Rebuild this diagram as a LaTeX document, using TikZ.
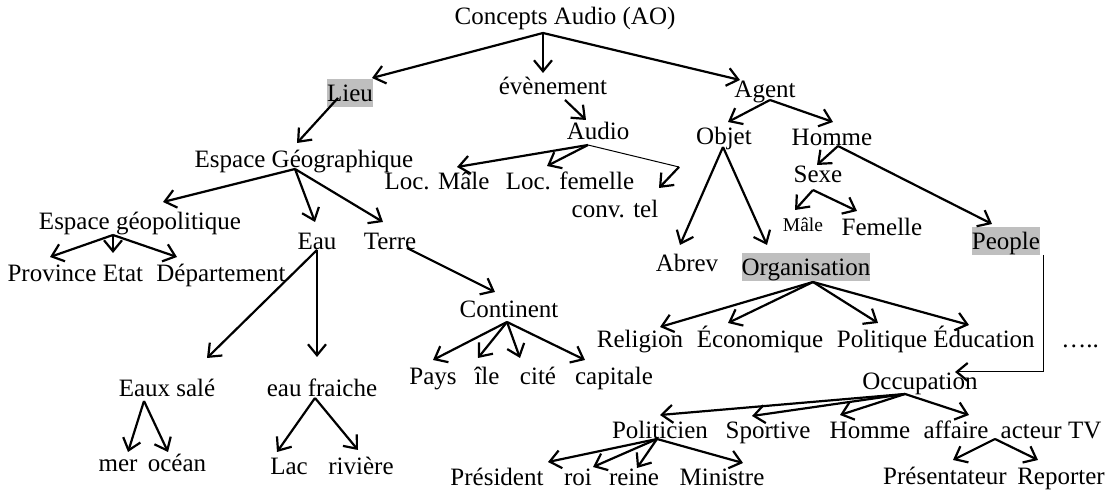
\documentclass[tikz,border=0pt]{standalone}
\usepackage{fontspec}
\setmainfont{Liberation Serif}
\usetikzlibrary{arrows.meta}
\begin{document}
\begin{tikzpicture}[x=0.5pt,y=-0.5pt,
  lbl/.style={anchor=base,inner sep=0pt,font=\fontsize{12.5}{15}\selectfont},
  small/.style={anchor=base,inner sep=0pt,font=\fontsize{9.75}{12}\selectfont},
  hl/.style={lbl,fill=gray!50,text height=11.4pt,text depth=2.7pt},
  arr/.style={-{Straight Barb[length=5.5pt,width=9pt]},line width=1.1pt},
  thinl/.style={line width=0.5pt}]
\useasboundingbox (0,0) rectangle (1110,490);
% ---------- nodes ----------
\node[lbl] (root) at (565,25) {Concepts Audio (AO)};
\node[hl] (lieu) at (350,102) {Lieu};
\node[lbl] (even) at (553,95) {évènement};
\node[lbl] (agent) at (765,98) {Agent};
\node[lbl] (audio) at (598,140) {Audio};
\node[lbl] (locm) at (437,190) {Loc. Mâle};
\node[lbl] (locf) at (570,190) {Loc. femelle};
\node[lbl] (conv) at (615,218) {conv. tel};
\node[lbl] (eg) at (304,168) {Espace Géographique};
\node[lbl] (egp) at (140,230) {Espace géopolitique};
\node[lbl] (prov) at (52,282) {Province};
\node[lbl] (etat) at (123,282) {Etat};
\node[lbl] (dept) at (221,282) {Département};
\node[lbl] (eau) at (317,250) {Eau};
\node[lbl] (terre) at (390,250) {Terre};
\node[lbl] (esal) at (167,397) {Eaux salé};
\node[lbl] (efr) at (322,397) {eau fraiche};
\node[lbl] (mer) at (118,472) {mer};
\node[lbl] (ocean) at (177,472) {océan};
\node[lbl] (lac) at (289,475) {Lac};
\node[lbl] (riv) at (361,475) {rivière};
\node[lbl] (cont) at (509,318) {Continent};
\node[lbl] (pays) at (433,385) {Pays};
\node[lbl] (ile) at (487,385) {île};
\node[lbl] (cite) at (538,385) {cité};
\node[lbl] (capit) at (614,385) {capitale};
\node[lbl] (objet) at (724,145) {Objet};
\node[lbl] (homme) at (832,146) {Homme};
\node[lbl] (sexe) at (818,183) {Sexe};
\node[small] (male) at (803,232) {Mâle};
\node[lbl] (fem) at (882,236) {Femelle};
\node[hl] (people) at (1006,250) {People};
\node[lbl] (abrev) at (687,272) {Abrev};
\node[hl] (orga) at (806,276) {Organisation};
\node[lbl] (relig) at (640,348) {Religion};
\node[lbl] (eco) at (760,348) {Économique};
\node[lbl] (polq) at (882,348) {Politique};
\node[lbl] (educ) at (984,348) {Éducation};
\node[lbl] (dots) at (1080,348) {…..};
\node[lbl] (occ) at (920,390) {Occupation};
\node[lbl] (polit) at (660,439) {Politicien};
\node[lbl] (sport) at (768,439) {Sportive};
\node[lbl] (hom2) at (870,439) {Homme};
\node[lbl] (aff) at (956,439) {affaire};
\node[lbl] (acteur) at (1051,439) {acteur TV};
\node[lbl] (pres) at (497,486) {Président};
\node[lbl] (roi) at (578,486) {roi};
\node[lbl] (reine) at (634,486) {reine};
\node[lbl] (mini) at (722,486) {Ministre};
\node[lbl] (presen) at (945,485) {Présentateur};
\node[lbl] (rep) at (1061,485) {Reporter};
% ---------- connector points ----------
\coordinate (rootS) at (543,33);
\coordinate (lieuT) at (372,78);
\coordinate (evenT) at (543,73);
\coordinate (agentT) at (740,80);
\coordinate (evenS) at (565,100);
\coordinate (audioT) at (586,120);
\coordinate (audioS) at (588,145);
\coordinate (locmT) at (457,167);
\coordinate (locfT) at (547,166);
\coordinate (convK) at (679,167);
\coordinate (convT) at (659,188);
\coordinate (lieuS) at (338,98);
\coordinate (egT) at (297,143);
\coordinate (egS) at (295,169);
\coordinate (egpT) at (163,202);
\coordinate (eauT) at (315,222);
\coordinate (terreT) at (383,222);
\coordinate (egpS) at (113,235);
\coordinate (provT) at (50,257);
\coordinate (etatT) at (113,253);
\coordinate (deptT) at (177,257);
\coordinate (eauS) at (317,250);
\coordinate (esalT) at (207,358);
\coordinate (efrT) at (317,357);
\coordinate (esalS) at (144,401);
\coordinate (merT) at (128,452);
\coordinate (oceanT) at (168,452);
\coordinate (efrS) at (315,398);
\coordinate (lacT) at (277,452);
\coordinate (rivT) at (358,450);
\coordinate (terreS) at (407,248);
\coordinate (contT) at (495,292);
\coordinate (contS) at (507,322);
\coordinate (paysT) at (433,360);
\coordinate (ileT) at (478,358);
\coordinate (citeT) at (520,358);
\coordinate (capitT) at (585,360);
\coordinate (agentS) at (770,100);
\coordinate (objetT) at (728,122);
\coordinate (hommeT) at (833,122);
\coordinate (objetS) at (723,147);
\coordinate (abrevT) at (680,245);
\coordinate (orgaT) at (767,245);
\coordinate (hommeS) at (838,146);
\coordinate (sexeT) at (817,165);
\coordinate (peopleT) at (992,224);
\coordinate (sexeS) at (813,190);
\coordinate (maleT) at (795,210);
\coordinate (femT) at (857,211);
\coordinate (orgaS) at (813,282);
\coordinate (religT) at (660,327);
\coordinate (ecoT) at (728,323);
\coordinate (polqT) at (878,323);
\coordinate (educT) at (969,325);
\coordinate (peopleS) at (1043,255);
\coordinate (occT) at (955,372);
\coordinate (occS) at (905,394);
\coordinate (politT) at (660,415);
\coordinate (sportT) at (752,416);
\coordinate (hom2T) at (840,415);
\coordinate (affT) at (969,415);
\coordinate (politS) at (657,439);
\coordinate (presT) at (548,462);
\coordinate (roiT) at (593,467);
\coordinate (reineT) at (637,468);
\coordinate (miniT) at (743,463);
\coordinate (acteurS) at (995,439);
\coordinate (presenT) at (953,460);
\coordinate (repT) at (1038,460);
% ---------- connectors ----------
\draw[arr] (rootS) -- (lieuT);
\draw[arr] (rootS) -- (evenT);
\draw[arr] (rootS) -- (agentT);
\draw[arr] (evenS) -- (audioT);
\draw[arr] (audioS) -- (locmT);
\draw[arr] (audioS) -- (locfT);
\draw[thinl] (audioS) -- (convK);
\draw[arr] (convK) -- (convT);
\draw[arr] (lieuS) -- (egT);
\draw[arr] (egS) -- (egpT);
\draw[arr] (egS) -- (eauT);
\draw[arr] (egS) -- (terreT);
\draw[arr] (egpS) -- (provT);
\draw[arr] (egpS) -- (etatT);
\draw[arr] (egpS) -- (deptT);
\draw[arr] (eauS) -- (esalT);
\draw[arr] (eauS) -- (efrT);
\draw[arr] (esalS) -- (merT);
\draw[arr] (esalS) -- (oceanT);
\draw[arr] (efrS) -- (lacT);
\draw[arr] (efrS) -- (rivT);
\draw[arr] (terreS) -- (contT);
\draw[arr] (contS) -- (paysT);
\draw[arr] (contS) -- (ileT);
\draw[arr] (contS) -- (citeT);
\draw[arr] (contS) -- (capitT);
\draw[arr] (agentS) -- (objetT);
\draw[arr] (agentS) -- (hommeT);
\draw[arr] (objetS) -- (abrevT);
\draw[arr] (objetS) -- (orgaT);
\draw[arr] (hommeS) -- (sexeT);
\draw[arr] (hommeS) -- (peopleT);
\draw[arr] (sexeS) -- (maleT);
\draw[arr] (sexeS) -- (femT);
\draw[arr] (orgaS) -- (religT);
\draw[arr] (orgaS) -- (ecoT);
\draw[arr] (orgaS) -- (polqT);
\draw[arr] (orgaS) -- (educT);
\draw[thinl,-{Straight Barb[length=5.5pt,width=9pt,line width=1.1pt]}] (peopleS) |- (occT);
\draw[arr] (occS) -- (politT);
\draw[arr] (occS) -- (sportT);
\draw[arr] (occS) -- (hom2T);
\draw[arr] (occS) -- (affT);
\draw[arr] (politS) -- (presT);
\draw[arr] (politS) -- (roiT);
\draw[arr] (politS) -- (reineT);
\draw[arr] (politS) -- (miniT);
\draw[arr] (acteurS) -- (presenT);
\draw[arr] (acteurS) -- (repT);
\end{tikzpicture}
\end{document}
